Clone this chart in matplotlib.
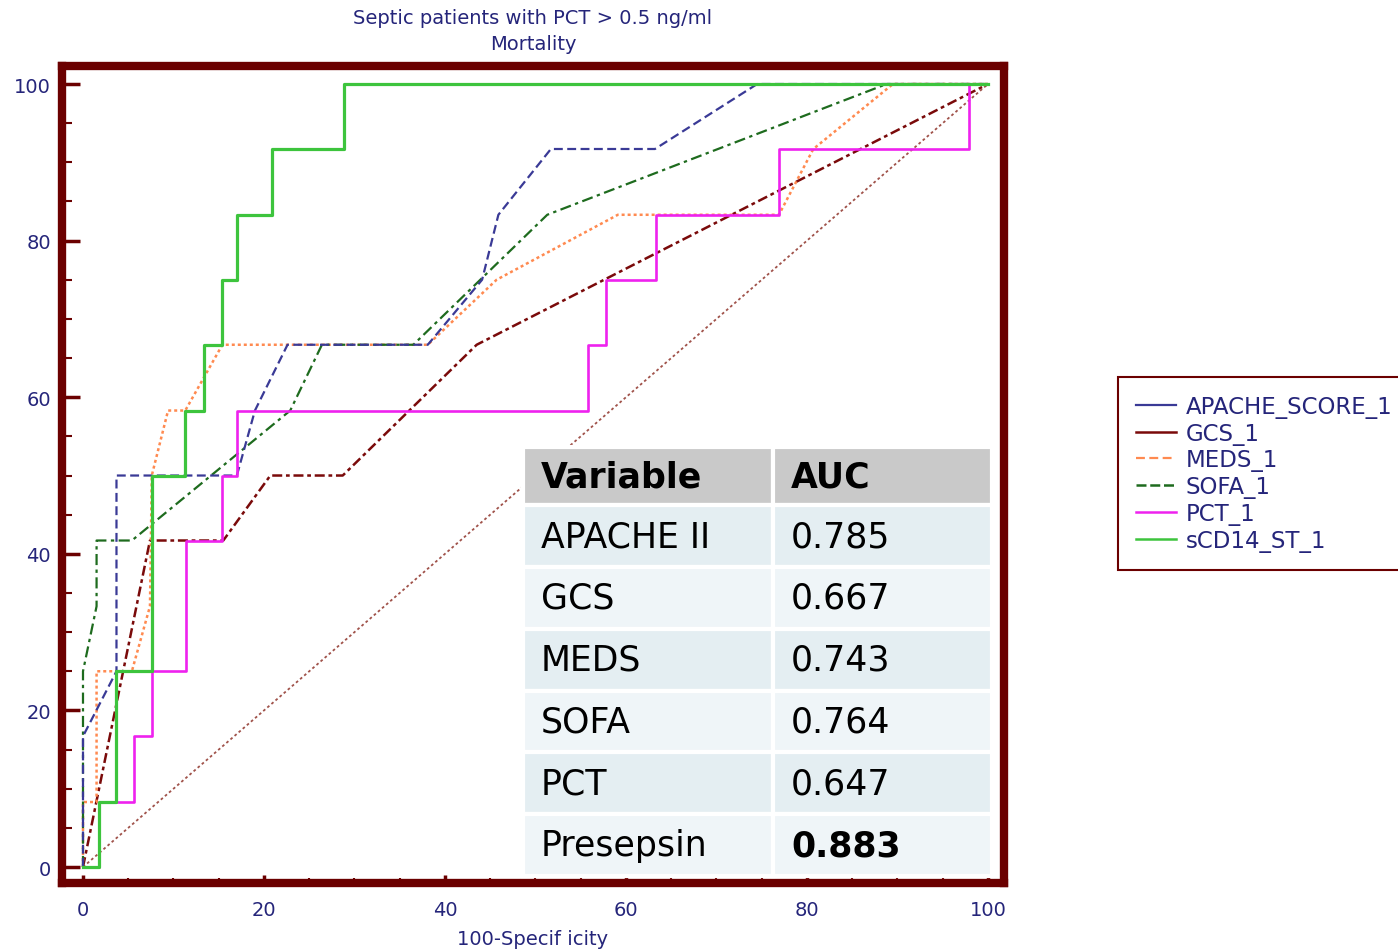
import matplotlib
matplotlib.use("Agg")
import matplotlib.pyplot as plt
from matplotlib.lines import Line2D
from matplotlib.ticker import MultipleLocator

# ROC coordinates (100-specificity, sensitivity)
apache_x = [0, 0, 3.7, 3.7, 17.0, 19.0, 22.6, 38.1, 44.1, 45.9, 51.7, 63.2, 74.5, 100]
apache_y = [0, 16.7, 25, 50, 50, 58.3, 66.7, 66.7, 75, 83.3, 91.7, 91.7, 100, 100]

gcs_x = [0, 7.4, 15.5, 20.7, 28.7, 43.5, 100]
gcs_y = [0, 41.7, 41.7, 50, 50, 66.7, 100]

meds_x = [0, 0, 1.5, 1.5, 5.4, 7.4, 7.6, 9.4, 11.3, 15.4, 38.1, 45.7, 59.1, 76.9, 80.7, 89.5, 100]
meds_y = [0, 8.3, 8.3, 25, 25, 33.3, 50, 58.3, 58.3, 66.7, 66.7, 75, 83.3, 83.3, 91.7, 100, 100]

sofa_x = [0, 0, 1.5, 1.5, 5.4, 22.9, 26.4, 36.5, 43.9, 51.3, 88.8, 100]
sofa_y = [0, 25, 33.3, 41.7, 41.7, 58.3, 66.7, 66.7, 75, 83.3, 100, 100]

pct_x = [0, 1.8, 5.6, 7.6, 11.4, 15.4, 17.0, 55.8, 57.8, 63.3, 76.9, 97.9, 100]
pct_y = [0, 8.3, 16.7, 25, 41.7, 50, 58.3, 66.7, 75, 83.3, 91.7, 100, 100]

scd14_x = [0, 1.8, 3.7, 7.6, 11.3, 13.4, 15.4, 17.0, 20.9, 28.8, 100]
scd14_y = [0, 8.3, 25, 50, 58.3, 66.7, 75, 83.3, 91.7, 100, 100]

diag_x = [0, 100]
diag_y = [0, 100]

legend_labels = ["APACHE_SCORE_1", "GCS_1", "MEDS_1", "SOFA_1", "PCT_1", "sCD14_ST_1"]

table_variables = ["APACHE II", "GCS", "MEDS", "SOFA", "PCT", "Presepsin"]
table_auc = ["0.785", "0.667", "0.743", "0.764", "0.647", "0.883"]

# colours
frame_col = "#6B0000"
text_col = "#25257A"
c_apache = "#3A3A96"
c_gcs = "#7A0A0A"
c_meds = "#FF8A50"
c_sofa = "#1E6B1E"
c_pct = "#EE22EE"
c_scd14 = "#3DC43D"
c_diag = "#A0524A"

plt.rcParams["font.family"] = ["DejaVu Sans"]

fig = plt.figure(figsize=(13.98, 9.53), dpi=100)
ax = fig.add_axes([62 / 1398, 1 - 884 / 953, (1004 - 62) / 1398, (884 - 67) / 953])

ax.plot(diag_x, diag_y, color=c_diag, lw=1.3, linestyle=(0, (1.5, 1.5)), zorder=2)
ax.plot(gcs_x, gcs_y, color=c_gcs, lw=1.8, linestyle=(0, (4, 1.5, 1.5, 1.5)), zorder=3)
ax.plot(meds_x, meds_y, color=c_meds, lw=1.8, linestyle=(0, (1.2, 1.2)), zorder=3)
ax.plot(sofa_x, sofa_y, color=c_sofa, lw=1.6, linestyle=(0, (5, 2, 1.5, 2)), zorder=3)
ax.plot(apache_x, apache_y, color=c_apache, lw=1.6, linestyle=(0, (4, 2)), zorder=3)
ax.plot(pct_x, pct_y, color=c_pct, lw=1.9, drawstyle="steps-post", zorder=4)
ax.plot(scd14_x, scd14_y, color=c_scd14, lw=2.3, drawstyle="steps-post", zorder=5)

ax.set_xlim(-2.32, 101.77)
ax.set_ylim(-2.04, 102.3)

ax.xaxis.set_major_locator(MultipleLocator(20))
ax.xaxis.set_minor_locator(MultipleLocator(5))
ax.yaxis.set_major_locator(MultipleLocator(20))
ax.yaxis.set_minor_locator(MultipleLocator(5))

for s in ax.spines.values():
    s.set_color(frame_col)
    s.set_linewidth(6)

ax.tick_params(axis="both", which="both", direction="in", color=frame_col,
               labelcolor=text_col, labelsize=14)
ax.tick_params(axis="y", which="major", length=13, width=2.5, pad=8)
ax.tick_params(axis="y", which="minor", length=7, width=1.5)
ax.tick_params(axis="x", which="major", length=6, width=2.5, pad=12)
ax.tick_params(axis="x", which="minor", length=3.5, width=1.5)

# titles and axis label
fig.text(533 / 1398, 1 - 18 / 953, "Septic patients with PCT > 0.5 ng/ml",
         ha="center", va="center", fontsize=14, color=text_col)
fig.text(533 / 1398, 1 - 44 / 953, "Mortality",
         ha="center", va="center", fontsize=14, color=text_col)
fig.text(533 / 1398, 1 - 940 / 953, "100-Specif icity",
         ha="center", va="center", fontsize=14, color=text_col)

# legend (runs past the right edge of the figure, as in the original)
handles = [
    Line2D([], [], color=c_apache, lw=1.6),
    Line2D([], [], color=c_gcs, lw=1.8),
    Line2D([], [], color=c_meds, lw=1.6, linestyle=(0, (4, 2))),
    Line2D([], [], color=c_sofa, lw=1.8, linestyle=(0, (4, 1.5))),
    Line2D([], [], color=c_pct, lw=1.8),
    Line2D([], [], color=c_scd14, lw=1.8),
]
leg = fig.legend(handles, legend_labels, loc="upper left",
                 bbox_to_anchor=(1118 / 1398, 1 - 378 / 953), borderaxespad=0,
                 fontsize=16.5, labelcolor=text_col, handlelength=1.75,
                 handletextpad=0.44, labelspacing=0.17, borderpad=0.77,
                 fancybox=False, framealpha=1)
leg.get_frame().set_edgecolor(frame_col)
leg.get_frame().set_linewidth(1.5)

# AUC table inset
cell_text = [["Variable", "AUC"]] + [[v, a] for v, a in zip(table_variables, table_auc)]
tbl = ax.table(cellText=cell_text, colWidths=[0.533, 0.467], cellLoc="left",
               bbox=[(523 - 62) / 942, (884 - 877) / 817, (992 - 523) / 942, (877 - 448) / 817],
               zorder=10)
tbl.auto_set_font_size(False)
row_cols = ["#C9C9C9", "#E4EEF2", "#EFF5F8", "#E4EEF2", "#EFF5F8", "#E4EEF2", "#EFF5F8"]
for (r, c), cell in tbl.get_celld().items():
    cell.set_facecolor(row_cols[r])
    cell.set_edgecolor("white")
    cell.set_linewidth(3)
    cell.set_height(58 if r == 0 else 61.5)
    cell.PAD = 0.072 if c == 0 else 0.082
    t = cell.get_text()
    t.set_fontsize(25)
    t.set_color("black")
    if r == 0 or (r == len(cell_text) - 1 and c == 1):
        t.set_fontweight("bold")

fig.savefig("out.png", dpi=100)
